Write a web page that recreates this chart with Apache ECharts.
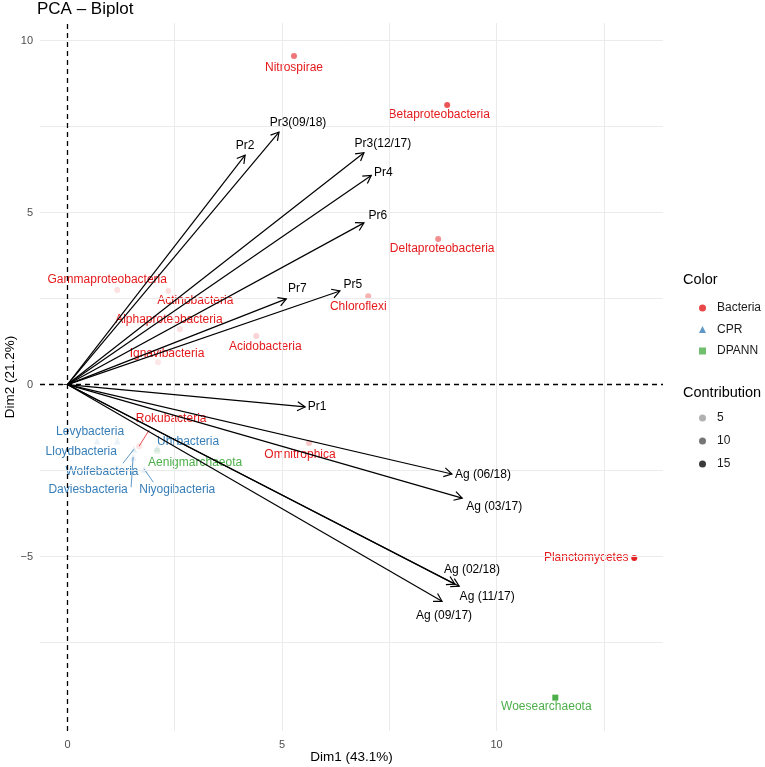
<!DOCTYPE html>
<html><head><meta charset="utf-8">
<script src="https://cdn.jsdelivr.net/npm/echarts@6/dist/echarts.min.js"></script>
<style>html,body{margin:0;padding:0;background:#fff}#c{width:765px;height:767px}</style>
</head><body><div id="c"></div>
<script>
// ---------- DATA ----------
const indNames = ['Nitrospirae','Betaproteobacteria','Deltaproteobacteria','Chloroflexi','Gammaproteobacteria','Actinobacteria','Alphaproteobacteria','Acidobacteria','Ignavibacteria','Omnitrophica','Planctomycetes','Rokubacteria','Levybacteria','Lloydbacteria','Uhrbacteria','Wolfebacteria','Daviesbacteria','Niyogibacteria','Aenigmarchaeota','Woesearchaeota'];
const indDim1 = [5.28, 8.85, 8.64, 7.01, 1.16, 2.35, 2.62, 4.40, 2.11, 5.63, 13.21, 1.67, 0.69, 1.16, 2.09, 1.55, 1.53, 1.79, 2.09, 11.37];
const indDim2 = [9.55, 8.13, 4.23, 2.57, 2.75, 2.72, 1.61, 1.41, 0.65, -1.70, -5.04, -1.79, -1.64, -1.64, -1.85, -1.88, -2.11, -2.46, -1.93, -9.10];
const indGroup = ['Bacteria','Bacteria','Bacteria','Bacteria','Bacteria','Bacteria','Bacteria','Bacteria','Bacteria','Bacteria','Bacteria','Bacteria','CPR','CPR','CPR','CPR','CPR','CPR','DPANN','DPANN'];
const indContrib = [8.7, 11.2, 6.9, 4.2, 0.7, 1.0, 0.7, 1.7, 0.35, 2.6, 15.0, 0.45, 0.2, 0.25, 0.55, 0.45, 0.5, 0.7, 0.6, 15.6];

const varNames = ['Pr2','Pr3(09/18)','Pr3(12/17)','Pr4','Pr6','Pr7','Pr5','Pr1','Ag (06/18)','Ag (03/17)','Ag (02/18)','Ag (11/17)','Ag (09/17)'];
const varDim1 = [4.14, 4.93, 6.91, 7.08, 6.91, 5.10, 6.35, 5.54, 8.96, 9.20, 9.03, 9.13, 8.73];
const varDim2 = [6.67, 7.34, 6.74, 6.08, 4.70, 2.49, 2.72, -0.65, -2.60, -3.30, -5.80, -5.86, -6.30];

const groups = ['Bacteria','CPR','DPANN'];
const contribLegend = [5, 10, 15];
const xTicks = [0, 5, 10];
const yTicks = [-5, 0, 5, 10];
const xGridVals = [2.5, 5, 7.5, 10, 12.5];
const yGridVals = [-7.5, -5, -2.5, 2.5, 5, 7.5, 10];

// ---------- STYLE / LAYOUT ----------
const groupColor = {Bacteria:'#E41A1C', CPR:'#377EB8', DPANN:'#4DAF4A'};
const groupSymbol = {Bacteria:'circle', CPR:'triangle', DPANN:'rect'};
const groupSize = {Bacteria:6, CPR:7, DPANN:6};
const indLabelOff = {
  'Nitrospirae':[0,12],'Betaproteobacteria':[-8,10],'Deltaproteobacteria':[4,10],'Chloroflexi':[-10,11],
  'Gammaproteobacteria':[-10,-10],'Actinobacteria':[27,10],'Alphaproteobacteria':[-11,-9],'Acidobacteria':[9,11],
  'Ignavibacteria':[9,-9],'Omnitrophica':[-9,12],'Planctomycetes':[-48,0],'Rokubacteria':[32,-27],
  'Levybacteria':[-7,-9],'Lloydbacteria':[-36,11],'Uhrbacteria':[31,-7],'Wolfebacteria':[-32,22],
  'Daviesbacteria':[-45,33],'Niyogibacteria':[33,20],'Aenigmarchaeota':[38,12],'Woesearchaeota':[-9,9]
};
const indSegOff = {'Rokubacteria':[10,-16],'Wolfebacteria':[-11,14],'Daviesbacteria':[-2,30],'Niyogibacteria':[9,13]};
const varLabelOff = {
  'Pr2':[0,-9],'Pr3(09/18)':[19,-9],'Pr3(12/17)':[19,-9],'Pr4':[12,-3],'Pr6':[14,-7],'Pr7':[11,-10],'Pr5':[13,-6],
  'Pr1':[12,0],'Ag (06/18)':[31,1],'Ag (03/17)':[32,9],'Ag (02/18)':[17,-14],'Ag (11/17)':[28,11],'Ag (09/17)':[2,14]
};
const FONT = '"Liberation Sans", Arial, Helvetica, sans-serif';

const cMin = Math.min(...indContrib), cMax = Math.max(...indContrib);
function alphaOf(c){ return Math.max(0.05, Math.min(1, 0.1 + 0.9*(c - cMin)/(cMax - cMin))); }
const minusFmt = v => String(v).replace('-', '\u2212');

// ---------- SERIES ----------
const series = [];
series.push({
  type:'line', name:'_grid', data:[], silent:true, z:1, animation:false,
  markLine:{silent:true, symbol:['none','none'], label:{show:false}, animation:false,
    lineStyle:{color:'#ebebeb', width:1, type:'solid'},
    data: xGridVals.map(v=>({xAxis:v})).concat(yGridVals.map(v=>({yAxis:v})))}
});
series.push({
  type:'line', name:'_zero', data:[], silent:true, z:2, animation:false,
  markLine:{silent:true, symbol:['none','none'], label:{show:false}, animation:false,
    lineStyle:{color:'#000', width:1.3, type:[5,4]},
    data:[{xAxis:0},{yAxis:0}]}
});
groups.forEach(g=>{
  const data = [];
  indNames.forEach((n,i)=>{
    if (indGroup[i]!==g) return;
    data.push({name:n, value:[indDim1[i], indDim2[i], indContrib[i]], itemStyle:{opacity:alphaOf(indContrib[i])}});
  });
  series.push({type:'scatter', name:g, data, symbol:groupSymbol[g], symbolSize:groupSize[g],
    itemStyle:{color:groupColor[g]}, z:3, animation:false, silent:true});
});
contribLegend.forEach(c=>{
  series.push({type:'scatter', name:String(c), data:[], symbol:'circle', symbolSize:6,
    itemStyle:{color:'rgba(0,0,0,'+alphaOf(c).toFixed(3)+')'}});
});
series.push({
  type:'custom', name:'_indLabels', z:4, animation:false, silent:true,
  data: indNames.map((n,i)=>[indDim1[i], indDim2[i]]),
  renderItem:(params, api)=>{
    const i = params.dataIndex, n = indNames[i];
    const p = api.coord([api.value(0), api.value(1)]);
    const off = indLabelOff[n] || [0,10];
    const col = groupColor[indGroup[i]];
    const ch = [];
    if (indSegOff[n]) {
      const s = indSegOff[n];
      ch.push({type:'line', shape:{x1:p[0], y1:p[1], x2:p[0]+s[0], y2:p[1]+s[1]}, style:{stroke:col, lineWidth:0.8}});
    }
    ch.push({type:'text', x:p[0]+off[0], y:p[1]+off[1], style:{text:n, fill:col, font:'12px '+FONT, align:'center', verticalAlign:'middle'}});
    return {type:'group', children:ch};
  }
});
series.push({
  type:'custom', name:'_arrows', z:5, animation:false, silent:true,
  data: varNames.map((n,i)=>[varDim1[i], varDim2[i]]),
  renderItem:(params, api)=>{
    const i = params.dataIndex;
    const o = api.coord([0,0]);
    const t = api.coord([api.value(0), api.value(1)]);
    const ang = Math.atan2(t[1]-o[1], t[0]-o[0]);
    const L = 9, A = Math.PI/6;
    const h1 = [t[0]-L*Math.cos(ang-A), t[1]-L*Math.sin(ang-A)];
    const h2 = [t[0]-L*Math.cos(ang+A), t[1]-L*Math.sin(ang+A)];
    const off = varLabelOff[varNames[i]] || [0,-10];
    return {type:'group', children:[
      {type:'line', shape:{x1:o[0], y1:o[1], x2:t[0], y2:t[1]}, style:{stroke:'#000', lineWidth:1.2}},
      {type:'polyline', shape:{points:[h1, t, h2]}, style:{stroke:'#000', fill:null, lineWidth:1.2}},
      {type:'text', x:t[0]+off[0], y:t[1]+off[1], style:{text:varNames[i], fill:'#000', font:'12px '+FONT, align:'center', verticalAlign:'middle'}}
    ]};
  }
});

const legendText = {fontSize:12, color:'#1a1a1a', fontFamily:FONT, padding:[0,0,0,6]};
const option = {
  backgroundColor:'#fff',
  animation:false,
  textStyle:{fontFamily:FONT},
  title:[
    {text:'PCA \u2013 Biplot', left:37, top:1, padding:0, textStyle:{fontSize:17, fontWeight:'normal', color:'#000', fontFamily:FONT}},
    {text:'Color', left:683, top:272, padding:0, textStyle:{fontSize:14.5, fontWeight:'normal', color:'#000', fontFamily:FONT}},
    {text:'Contribution', left:683, top:385, padding:0, textStyle:{fontSize:14.5, fontWeight:'normal', color:'#000', fontFamily:FONT}}
  ],
  legend:[
    {data:groups, orient:'vertical', left:694, top:297, itemWidth:7, itemHeight:7, itemGap:9.5, selectedMode:false, textStyle:legendText},
    {data:contribLegend.map(String), orient:'vertical', left:694, top:407, itemWidth:7, itemHeight:7, itemGap:11, selectedMode:false, textStyle:legendText}
  ],
  grid:{left:40, right:102, top:23, bottom:36, containLabel:false, outerBoundsMode:'none'},
  xAxis:{type:'value', min:-0.64, max:13.88,
    name:'Dim1 (43.1%)', nameLocation:'middle', nameGap:19, nameMoveOverlap:false,
    nameTextStyle:{fontSize:13.5, color:'#000', fontFamily:FONT},
    axisLine:{show:false}, splitLine:{show:false},
    axisTick:{show:true, customValues:xTicks, length:4, lineStyle:{color:'#333', width:1}},
    axisLabel:{customValues:xTicks, color:'#4d4d4d', fontSize:11, margin:8, formatter:minusFmt, fontFamily:FONT}
  },
  yAxis:{type:'value', min:-10.07, max:10.51,
    name:'Dim2 (21.2%)', nameLocation:'middle', nameGap:23, nameMoveOverlap:false,
    nameTextStyle:{fontSize:13.5, color:'#000', fontFamily:FONT},
    axisLine:{show:false}, splitLine:{show:false},
    axisTick:{show:true, customValues:yTicks, length:4, lineStyle:{color:'#333', width:1}},
    axisLabel:{customValues:yTicks, color:'#4d4d4d', fontSize:11, margin:7, formatter:minusFmt, fontFamily:FONT}
  },
  series
};
const chart = echarts.init(document.getElementById('c'), null, {renderer:'canvas'});
chart.setOption(option);
</script></body></html>
